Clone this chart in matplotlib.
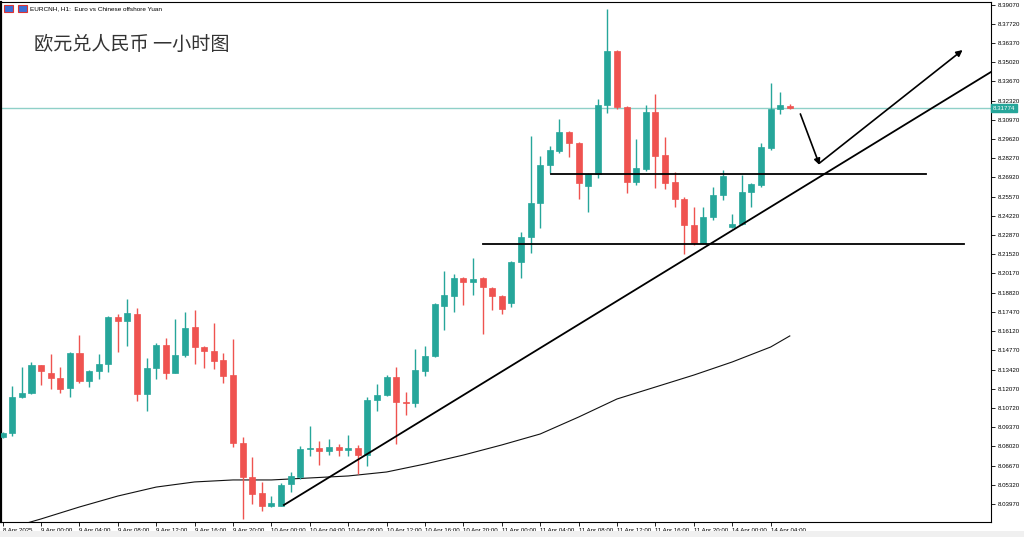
import matplotlib
matplotlib.use('Agg')
import matplotlib.pyplot as plt
from matplotlib.patches import Rectangle

# EURCNH H1 candles, bar 0 = 9 Apr 00:00, first visible bar (-4) = 8 Apr 20:00
bar_idx = list(range(-4, 79))

opens = [8.0868, 8.0896, 8.1149, 8.1177, 8.1374, 8.1317, 8.1282, 8.1212, 8.1458, 8.1261,
         8.1332, 8.1381, 8.1711, 8.1683, 8.1732, 8.1170, 8.1353, 8.1514, 8.1317, 8.1444,
         8.1641, 8.1500, 8.1472, 8.1409, 8.1303, 8.0826, 8.0587, 8.0474, 8.0383, 8.0383,
         8.0538, 8.0587, 8.0783, 8.0790, 8.0769, 8.0797, 8.0776, 8.0790, 8.0741, 8.1128,
         8.1163, 8.1289, 8.1114, 8.1107, 8.1332, 8.1437, 8.1788, 8.1859, 8.1985, 8.1957,
         8.1985, 8.1915, 8.1859, 8.1809, 8.2098, 8.2273, 8.2512, 8.2779, 8.2878, 8.3011,
         8.2934, 8.2632, 8.2716, 8.3201, 8.3580, 8.3187, 8.2660, 8.2751, 8.3152, 8.2849,
         8.2660, 8.2540, 8.2357, 8.2231, 8.2414, 8.2568, 8.2343, 8.2365, 8.2589, 8.2639,
         8.2899, 8.3173, 8.3194]
highs = [8.0903, 8.1226, 8.1360, 8.1395, 8.1374, 8.1451, 8.1360, 8.1465, 8.1585, 8.1339,
         8.1451, 8.1718, 8.1732, 8.1837, 8.1774, 8.1423, 8.1528, 8.1563, 8.1697, 8.1746,
         8.1760, 8.1507, 8.1669, 8.1458, 8.1556, 8.0868, 8.0727, 8.0552, 8.0453, 8.0545,
         8.0622, 8.0804, 8.0945, 8.0840, 8.0854, 8.0819, 8.0882, 8.0812, 8.1149, 8.1240,
         8.1303, 8.1360, 8.1184, 8.1486, 8.1507, 8.1809, 8.2034, 8.2013, 8.1992, 8.2126,
         8.1992, 8.1922, 8.1866, 8.2105, 8.2308, 8.2983, 8.2842, 8.2913, 8.3102, 8.3018,
         8.2941, 8.2723, 8.3243, 8.3875, 8.3587, 8.3194, 8.2962, 8.3201, 8.3278, 8.2976,
         8.2730, 8.2554, 8.2484, 8.2484, 8.2625, 8.2744, 8.2435, 8.2709, 8.2653, 8.2934,
         8.3355, 8.3292, 8.3208]
lows = [8.0861, 8.0875, 8.1142, 8.1170, 8.1233, 8.1205, 8.1177, 8.1149, 8.1247, 8.1219,
        8.1275, 8.1325, 8.1465, 8.1507, 8.1121, 8.1051, 8.1275, 8.1275, 8.1317, 8.1430,
        8.1381, 8.1353, 8.1346, 8.1247, 8.0797, 8.0292, 8.0397, 8.0348, 8.0376, 8.0383,
        8.0481, 8.0573, 8.0734, 8.0671, 8.0741, 8.0734, 8.0734, 8.0608, 8.0664, 8.1051,
        8.1156, 8.0819, 8.1022, 8.1079, 8.1296, 8.1430, 8.1620, 8.1746, 8.1795, 8.1866,
        8.1592, 8.1760, 8.1732, 8.1781, 8.1985, 8.2161, 8.2336, 8.2723, 8.2863, 8.2835,
        8.2540, 8.2449, 8.2688, 8.3145, 8.3173, 8.2582, 8.2639, 8.2737, 8.2617, 8.2610,
        8.2484, 8.2154, 8.2217, 8.2224, 8.2393, 8.2533, 8.2336, 8.2357, 8.2484, 8.2625,
        8.2885, 8.3138, 8.3173]
closes = [8.0896, 8.1149, 8.1177, 8.1374, 8.1332, 8.1282, 8.1205, 8.1458, 8.1261, 8.1332,
          8.1381, 8.1711, 8.1683, 8.1739, 8.1170, 8.1353, 8.1514, 8.1317, 8.1444, 8.1634,
          8.1500, 8.1472, 8.1402, 8.1296, 8.0826, 8.0587, 8.0467, 8.0383, 8.0404, 8.0530,
          8.0594, 8.0783, 8.0790, 8.0769, 8.0797, 8.0776, 8.0790, 8.0741, 8.1128, 8.1163,
          8.1289, 8.1114, 8.1107, 8.1339, 8.1437, 8.1802, 8.1866, 8.1985, 8.1957, 8.1978,
          8.1922, 8.1859, 8.1767, 8.2098, 8.2273, 8.2512, 8.2779, 8.2885, 8.3011, 8.2934,
          8.2653, 8.2716, 8.3201, 8.3580, 8.3187, 8.2660, 8.2758, 8.3152, 8.2842, 8.2653,
          8.2540, 8.2357, 8.2231, 8.2414, 8.2568, 8.2702, 8.2365, 8.2589, 8.2646, 8.2906,
          8.3173, 8.3201, 8.31774]

# moving average read every 4 bars
ma_idx = [-4, 0, 4, 8, 12, 16, 20, 24, 28, 32, 36, 40, 44, 48, 52, 56, 60, 64, 68, 72, 76, 78]
ma_val = [8.0214, 8.0292, 8.0376, 8.0453, 8.0516, 8.0552, 8.0566, 8.0566, 8.0580, 8.0594, 8.0622,
          8.0678, 8.0741, 8.0812, 8.0889, 8.1008, 8.1135, 8.1219, 8.1303, 8.1395, 8.1500, 8.1578]

tick_idx = list(range(-4, 77, 4))
tick_labels = ['8 Apr 2025', '9 Apr 00:00', '9 Apr 04:00', '9 Apr 08:00', '9 Apr 12:00',
               '9 Apr 16:00', '9 Apr 20:00', '10 Apr 00:00', '10 Apr 04:00', '10 Apr 08:00',
               '10 Apr 12:00', '10 Apr 16:00', '10 Apr 20:00', '11 Apr 00:00', '11 Apr 04:00',
               '11 Apr 08:00', '11 Apr 12:00', '11 Apr 16:00', '11 Apr 20:00', '14 Apr 00:00',
               '14 Apr 04:00']
price_ticks = [8.03970, 8.05320, 8.06670, 8.08020, 8.09370, 8.10720, 8.12070, 8.13420, 8.14770,
               8.16120, 8.17470, 8.18820, 8.20170, 8.21520, 8.22870, 8.24220, 8.25570, 8.26920,
               8.28270, 8.29620, 8.30970, 8.32320, 8.33670, 8.35020, 8.36370, 8.37720, 8.39070]
last_price = 8.31774

# hand drawn objects (bar index, price)
trend_line = ([25.3, 98.96], [8.0390, 8.3433])
level_top = ([53.1, 92.2], [8.2716, 8.2716])
level_bottom = ([46.0, 96.1], [8.2224, 8.2224])
arrow_down = ((79.1, 8.3138), (81.1, 8.2779))
arrow_up = ((81.1, 8.2793), (96.0, 8.3587))

title = '欧元兑人民币 一小时图'
header = 'EURCNH, H1:  Euro vs Chinese offshore Yuan'

UP = '#26a69a'
DOWN = '#ef5350'

fig = plt.figure(figsize=(10.24, 5.37), dpi=100)
ax = fig.add_axes([1 / 1024, 15 / 537, 990 / 1024, 520 / 537])

ax.plot(ma_idx, ma_val, color='#111111', lw=0.8, zorder=1)

for i, o, h, l, c in zip(bar_idx, opens, highs, lows, closes):
    col = UP if c >= o else DOWN
    ax.vlines(i, l, h, color=col, lw=1.0, zorder=2)
    body = max(abs(c - o), 0.0004)
    ax.bar(i, body, bottom=min(o, c), width=0.64, color=col, edgecolor=col, lw=0.5, zorder=3)

ax.axhline(last_price, color='#8fd0c8', lw=1.0, zorder=1.5)

ax.plot(*trend_line, color='black', lw=1.3, zorder=4)
ax.plot(*level_top, color='black', lw=1.3, zorder=4)
ax.plot(*level_bottom, color='black', lw=1.3, zorder=4)
for start, end in (arrow_down, arrow_up):
    ax.annotate('', xy=end, xytext=start,
                arrowprops=dict(arrowstyle='-|>', color='black', lw=1.2,
                                mutation_scale=9, shrinkA=0, shrinkB=0), zorder=4)

ax.set_xlim(-4.17, 98.96)
ax.set_ylim(8.02705, 8.39246)

ax.yaxis.tick_right()
ax.set_yticks(price_ticks)
ax.set_yticklabels([f'{p:.5f}' for p in price_ticks], fontsize=4.4, family='Liberation Sans')
ax.set_xticks(tick_idx)
ax.set_xticklabels(tick_labels, fontsize=4.4, family='Liberation Sans', ha='left')
ax.tick_params(axis='both', direction='out', length=3, width=0.6, pad=1.5, colors='black')
for s in ax.spines.values():
    s.set_color('black')
    s.set_linewidth(0.8)
ax.spines['left'].set_linewidth(1.6)

# price label on the axis
ax.text(1.002, last_price, f'{last_price:.5f}', transform=ax.get_yaxis_transform(),
        fontsize=4.4, family='Liberation Sans', color='white', va='center', ha='left',
        bbox=dict(boxstyle='square,pad=0.25', fc=UP, ec=UP), zorder=6, clip_on=False)

# window header
fig.patches.append(Rectangle((4 / 1024, 1 - 12 / 537), 9 / 1024, 7 / 537, transform=fig.transFigure,
                             fc='#3b6fd6', ec='#d33', lw=0.8))
fig.patches.append(Rectangle((18 / 1024, 1 - 12 / 537), 9 / 1024, 7 / 537, transform=fig.transFigure,
                             fc='#3b6fd6', ec='#d33', lw=0.8))
fig.text(30 / 1024, 1 - 9 / 537, header, fontsize=4.6, family='Liberation Sans', va='center')
fig.text(34 / 1024, 1 - 44 / 537, title, fontsize=13.8, color='#333333', va='center',
         family=['Noto Sans CJK SC', 'DejaVu Sans'])

fig.patches.append(Rectangle((0, 0), 1, 6 / 537, transform=fig.transFigure, fc='#f0f0f0', ec='none'))

fig.savefig('out.png', dpi=100)
